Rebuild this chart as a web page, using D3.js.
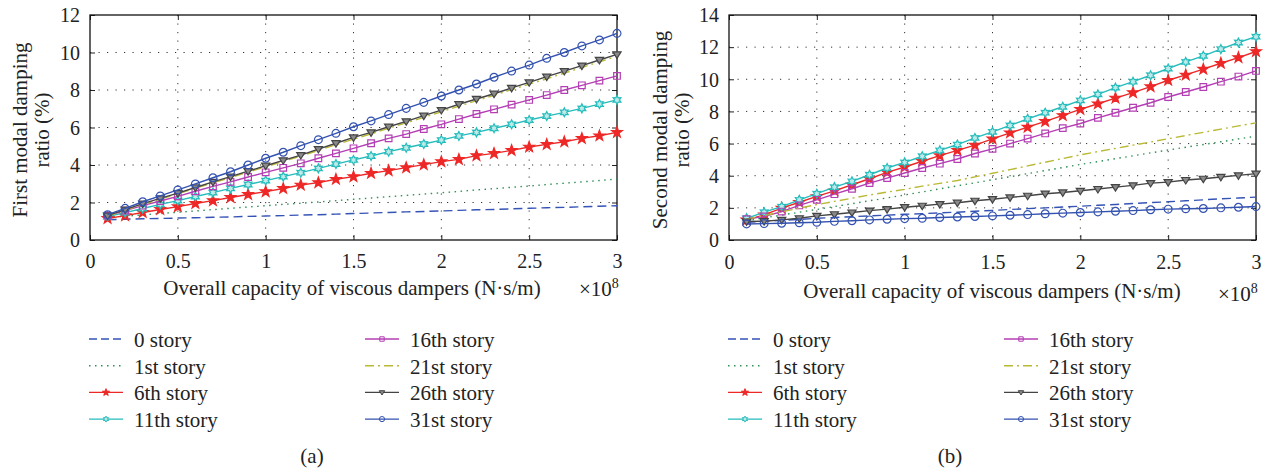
<!DOCTYPE html>
<html>
<head>
<meta charset="utf-8">
<script src="https://cdn.jsdelivr.net/npm/d3@7"></script>
<style>
  body { margin: 0; background: #fff; }
  svg text { font-family: "Liberation Serif", "DejaVu Serif", "Noto Serif", "Times New Roman", serif; fill: #222; }
</style>
</head>
<body>
<svg id="chart" width="1271" height="473"></svg>
<script>
// overall capacity of viscous dampers (x 10^8 N.s/m)
const capacity = [0.1, 0.2, 0.3, 0.4, 0.5, 0.6, 0.7, 0.8, 0.9, 1.0,
                  1.1, 1.2, 1.3, 1.4, 1.5, 1.6, 1.7, 1.8, 1.9, 2.0,
                  2.1, 2.2, 2.3, 2.4, 2.5, 2.6, 2.7, 2.8, 2.9, 3.0];

const storyNames = ["0 story", "1st story", "6th story", "11th story",
                    "16th story", "21st story", "26th story", "31st story"];

// (a) first modal damping ratio (%)
const first0  = [1.08, 1.11, 1.13, 1.15, 1.17, 1.19, 1.21, 1.23, 1.26, 1.28, 1.30, 1.33, 1.35, 1.38, 1.41,
                 1.44, 1.47, 1.50, 1.52, 1.55, 1.58, 1.61, 1.63, 1.66, 1.69, 1.72, 1.74, 1.77, 1.80, 1.83];
const first1  = [1.20, 1.27, 1.34, 1.41, 1.48, 1.55, 1.62, 1.69, 1.76, 1.83, 1.90, 1.96, 2.03, 2.10, 2.17,
                 2.24, 2.31, 2.38, 2.45, 2.52, 2.59, 2.67, 2.74, 2.81, 2.88, 2.96, 3.03, 3.10, 3.17, 3.25];
const first6  = [1.15, 1.30, 1.47, 1.63, 1.78, 1.95, 2.10, 2.27, 2.43, 2.58, 2.75, 2.93, 3.06, 3.24, 3.38,
                 3.56, 3.70, 3.86, 4.02, 4.18, 4.30, 4.50, 4.62, 4.78, 4.96, 5.10, 5.24, 5.42, 5.56, 5.74];
const first11 = [1.25, 1.46, 1.68, 1.90, 2.10, 2.32, 2.53, 2.75, 2.96, 3.17, 3.38, 3.59, 3.82, 4.05, 4.27,
                 4.48, 4.71, 4.92, 5.12, 5.33, 5.55, 5.74, 5.96, 6.17, 6.40, 6.61, 6.81, 7.02, 7.25, 7.47];
const first16 = [1.30, 1.57, 1.83, 2.08, 2.33, 2.60, 2.86, 3.10, 3.36, 3.61, 3.85, 4.09, 4.36, 4.62, 4.89,
                 5.16, 5.42, 5.65, 5.92, 6.17, 6.45, 6.72, 6.97, 7.22, 7.47, 7.73, 8.00, 8.25, 8.50, 8.75];
const first21 = [1.28, 1.58, 1.90, 2.18, 2.46, 2.76, 3.05, 3.33, 3.62, 3.90, 4.19, 4.48, 4.78, 5.08, 5.38,
                 5.66, 5.96, 6.25, 6.54, 6.84, 7.14, 7.43, 7.72, 8.02, 8.31, 8.60, 8.90, 9.20, 9.50, 9.80];
const first26 = [1.30, 1.62, 1.94, 2.22, 2.50, 2.80, 3.10, 3.38, 3.67, 3.96, 4.25, 4.53, 4.85, 5.16, 5.47,
                 5.74, 6.04, 6.33, 6.63, 6.93, 7.24, 7.52, 7.80, 8.11, 8.41, 8.71, 9.01, 9.30, 9.60, 9.90];
const first31 = [1.35, 1.69, 2.04, 2.35, 2.67, 2.99, 3.32, 3.64, 4.00, 4.36, 4.68, 5.03, 5.35, 5.69, 6.04,
                 6.35, 6.69, 7.02, 7.34, 7.68, 8.00, 8.32, 8.68, 9.01, 9.33, 9.69, 10.00, 10.35, 10.67, 11.02];

// (b) second modal damping ratio (%)
const second0  = [1.10, 1.16, 1.22, 1.28, 1.35, 1.40, 1.45, 1.50, 1.55, 1.60, 1.64, 1.69, 1.73, 1.79, 1.84,
                  1.90, 1.95, 2.00, 2.05, 2.10, 2.16, 2.21, 2.27, 2.33, 2.38, 2.44, 2.50, 2.56, 2.61, 2.67];
const second1  = [1.20, 1.38, 1.55, 1.73, 1.90, 2.08, 2.26, 2.44, 2.62, 2.80, 2.99, 3.18, 3.37, 3.56, 3.75,
                  3.94, 4.13, 4.32, 4.51, 4.70, 4.88, 5.06, 5.24, 5.42, 5.60, 5.77, 5.94, 6.11, 6.29, 6.46];
const second6  = [1.25, 1.56, 1.98, 2.35, 2.71, 3.06, 3.44, 3.81, 4.21, 4.54, 4.90, 5.25, 5.58, 5.90, 6.29,
                  6.67, 7.02, 7.38, 7.75, 8.13, 8.48, 8.83, 9.17, 9.54, 9.94, 10.27, 10.63, 11.00, 11.35, 11.73];
const second11 = [1.35, 1.73, 2.08, 2.50, 2.88, 3.29, 3.65, 4.06, 4.48, 4.83, 5.21, 5.58, 5.94, 6.35, 6.73,
                  7.13, 7.54, 7.92, 8.29, 8.69, 9.06, 9.48, 9.85, 10.25, 10.67, 11.08, 11.46, 11.88, 12.29, 12.65];
const second16 = [1.30, 1.46, 1.77, 2.15, 2.50, 2.85, 3.19, 3.54, 3.85, 4.17, 4.48, 4.75, 5.04, 5.38, 5.67,
                  6.00, 6.31, 6.63, 6.96, 7.25, 7.60, 7.92, 8.23, 8.54, 8.90, 9.21, 9.52, 9.85, 10.17, 10.52];
const second21 = [1.30, 1.52, 1.75, 1.98, 2.20, 2.40, 2.60, 2.80, 2.98, 3.15, 3.35, 3.52, 3.70, 3.93, 4.15,
                  4.38, 4.61, 4.84, 5.07, 5.30, 5.50, 5.70, 5.90, 6.10, 6.30, 6.50, 6.70, 6.90, 7.10, 7.29];
const second26 = [1.15, 1.17, 1.25, 1.35, 1.50, 1.60, 1.71, 1.83, 1.92, 2.04, 2.13, 2.23, 2.32, 2.44, 2.54,
                  2.65, 2.75, 2.88, 2.96, 3.06, 3.17, 3.29, 3.40, 3.54, 3.60, 3.73, 3.81, 3.92, 4.02, 4.13];
const second31 = [1.00, 1.02, 1.04, 1.07, 1.10, 1.16, 1.20, 1.25, 1.29, 1.33, 1.35, 1.40, 1.43, 1.46, 1.50,
                  1.54, 1.58, 1.63, 1.67, 1.71, 1.75, 1.79, 1.83, 1.88, 1.92, 1.94, 1.96, 2.00, 2.04, 2.08];

const xTicks = [0, 0.5, 1, 1.5, 2, 2.5, 3];
const xTickLabels = ["0", "0.5", "1", "1.5", "2", "2.5", "3"];
const yTicksA = [0, 2, 4, 6, 8, 10, 12];
const yTicksB = [0, 2, 4, 6, 8, 10, 12, 14];

// line / marker look for each story, in legend order
const styles = [
  { color: "#3553b5", dash: "9,5",       marker: null },
  { color: "#2f8f55", dash: "1.5,4.5",   marker: null },
  { color: "#ee2727", dash: null,        marker: "pentagram" },
  { color: "#25bcbc", dash: null,        marker: "hexagram" },
  { color: "#b43eb4", dash: null,        marker: "square" },
  { color: "#b9b935", dash: "9,4,2,4",   marker: null },
  { color: "#444444", dash: null,        marker: "triangleDown" },
  { color: "#3352b0", dash: null,        marker: "circle" }
];

function starPoints(n, rOut, rIn) {
  let pts = [];
  for (let i = 0; i < 2 * n; i++) {
    let r = i % 2 === 0 ? rOut : rIn;
    let a = -Math.PI / 2 + i * Math.PI / n;
    pts.push([r * Math.cos(a), r * Math.sin(a)]);
  }
  return "M" + pts.map(p => p[0].toFixed(2) + "," + p[1].toFixed(2)).join("L") + "Z";
}

function markerPath(kind, r) {
  if (kind === "circle") return d3.symbol(d3.symbolCircle, Math.PI * r * r)();
  if (kind === "square") { let s = r * 0.85; return `M${-s},${-s}H${s}V${s}H${-s}Z`; }
  if (kind === "triangleDown") return `M${-r * 1.05},${-r * 0.65}H${r * 1.05}L0,${r}Z`;
  if (kind === "pentagram") return starPoints(5, r * 1.45, r * 0.58);
  if (kind === "hexagram") return starPoints(6, r * 1.15, r * 0.62);
  return null;
}

function markerFill(kind, color) {
  if (kind === "pentagram") return color;
  if (kind === "triangleDown") return "#8a8a8a";
  if (kind === "hexagram") return "#bfeaea";
  return "none";
}

const svg = d3.select("#chart");
const FONT = "'Liberation Serif', 'DejaVu Serif', 'Noto Serif', 'Times New Roman', serif";

function drawPanel(p) {
  let x = d3.scaleLinear().domain([0, 3]).range([p.left, p.right]);
  let y = d3.scaleLinear().domain([0, p.yMax]).range([p.bottom, p.top]);
  let g = svg.append("g");

  // dotted grid
  g.append("g").selectAll("line")
    .data(xTicks.slice(1, -1))
    .join("line")
    .attr("x1", d => x(d)).attr("x2", d => x(d))
    .attr("y1", p.top).attr("y2", p.bottom)
    .attr("stroke", "#333").attr("stroke-width", 1)
    .attr("stroke-dasharray", "1.2,7.3");
  g.append("g").selectAll("line")
    .data(p.yTicks.slice(1, -1))
    .join("line")
    .attr("x1", p.left).attr("x2", p.right)
    .attr("y1", d => y(d)).attr("y2", d => y(d))
    .attr("stroke", "#333").attr("stroke-width", 1)
    .attr("stroke-dasharray", "1.2,7.3");

  // axes, ticks pointing inward like matlab
  let bottomAxis = g.append("g")
    .attr("transform", `translate(0,${p.bottom})`)
    .call(d3.axisBottom(x).tickValues(xTicks).tickSizeInner(-5).tickSizeOuter(0)
      .tickFormat((d, i) => xTickLabels[i]));
  bottomAxis.selectAll("text")
    .attr("y", p.tickLabelY).attr("dy", null)
    .style("font-family", FONT).style("font-size", "20px").style("fill", "#222");

  let leftAxis = g.append("g")
    .attr("transform", `translate(${p.left},0)`)
    .call(d3.axisLeft(y).tickValues(p.yTicks).tickSizeInner(-5).tickSizeOuter(0));
  leftAxis.selectAll("text")
    .attr("x", -10).attr("dy", "0.34em")
    .style("font-family", FONT).style("font-size", "20px").style("fill", "#222");

  g.append("g")
    .attr("transform", `translate(0,${p.top})`)
    .call(d3.axisTop(x).tickValues(xTicks).tickSizeInner(-5).tickSizeOuter(0).tickFormat(""));
  g.append("g")
    .attr("transform", `translate(${p.right},0)`)
    .call(d3.axisRight(y).tickValues(p.yTicks).tickSizeInner(-5).tickSizeOuter(0).tickFormat(""));
  g.selectAll(".domain").remove();
  g.selectAll(".tick line").attr("stroke", "#222");

  g.append("rect")
    .attr("x", p.left).attr("y", p.top)
    .attr("width", p.right - p.left).attr("height", p.bottom - p.top)
    .attr("fill", "none").attr("stroke", "#111").attr("stroke-width", 1.3);

  // series
  let line = d3.line().x(d => x(d.x)).y(d => y(d.v));
  p.series.forEach((vals, i) => {
    let st = styles[i];
    let pts = capacity.map((c, k) => ({ x: c, v: vals[k] }));
    g.append("path")
      .datum(pts)
      .attr("d", line)
      .attr("fill", "none")
      .attr("stroke", st.color)
      .attr("stroke-width", 1.4)
      .attr("stroke-dasharray", st.dash);
    if (st.marker) {
      g.append("g").selectAll("path")
        .data(pts)
        .join("path")
        .attr("transform", d => `translate(${x(d.x)},${y(d.v)})`)
        .attr("d", markerPath(st.marker, 3.9))
        .attr("fill", markerFill(st.marker, st.color))
        .attr("stroke", st.color)
        .attr("stroke-width", 1.2);
    }
  });

  // y label (two lines)
  p.yLabel.forEach((t, i) => {
    g.append("text")
      .attr("transform", `translate(${p.yLabelX + i * 22},130) rotate(-90)`)
      .attr("text-anchor", "middle")
      .style("font-family", FONT)
      .style("font-size", "21px")
      .text(t);
  });

  // x label and exponent
  g.append("text")
    .attr("x", p.xLabelX).attr("y", p.xLabelY)
    .attr("text-anchor", "middle")
    .style("font-family", FONT)
    .style("font-size", "21px")
    .text("Overall capacity of viscous dampers (N\u00b7s/m)");
  let ex = g.append("text")
    .attr("x", p.expX).attr("y", p.expY)
    .style("font-family", FONT)
    .style("font-size", "21px");
  ex.append("tspan").text("\u00d710");
  ex.append("tspan").attr("dy", -8).style("font-size", "14px").text("8");

  // legend, 2 columns x 4 rows
  storyNames.forEach((name, i) => {
    let st = styles[i];
    let col = Math.floor(i / 4), row = i % 4;
    let lx = p.legendX + col * 276;
    let ly = 339 + row * 26.7;
    let lg = g.append("g");
    lg.append("line")
      .attr("x1", lx).attr("x2", lx + 34)
      .attr("y1", ly).attr("y2", ly)
      .attr("stroke", st.color).attr("stroke-width", 1.4)
      .attr("stroke-dasharray", st.dash === "9,5" ? "8,4" : st.dash);
    if (st.marker) {
      lg.append("path")
        .attr("transform", `translate(${lx + 17},${ly})`)
        .attr("d", markerPath(st.marker, 2.6))
        .attr("fill", markerFill(st.marker, st.color))
        .attr("stroke", st.color).attr("stroke-width", 1);
    }
    lg.append("text")
      .attr("x", lx + 45).attr("y", ly + 8)
      .style("font-family", FONT)
      .style("font-size", "21px")
      .text(name);
  });

  g.append("text")
    .attr("x", p.capX).attr("y", 463)
    .attr("text-anchor", "middle")
    .style("font-family", FONT)
    .style("font-size", "21px")
    .text(p.caption);
}

drawPanel({
  left: 90, right: 617, top: 15, bottom: 240, yMax: 12, yTicks: yTicksA,
  series: [first0, first1, first6, first11, first16, first21, first26, first31],
  yLabel: ["First modal damping", "ratio (%)"], yLabelX: 27,
  tickLabelY: 28, xLabelX: 352, xLabelY: 295, expX: 579, expY: 296,
  legendX: 89, capX: 312, caption: "(a)"
});

drawPanel({
  left: 729, right: 1256, top: 15, bottom: 240, yMax: 14, yTicks: yTicksB,
  series: [second0, second1, second6, second11, second16, second21, second26, second31],
  yLabel: ["Second modal damping", "ratio (%)"], yLabelX: 667,
  tickLabelY: 29, xLabelX: 992, xLabelY: 298, expX: 1218, expY: 301,
  legendX: 728, capX: 950, caption: "(b)"
});
</script>
</body>
</html>
